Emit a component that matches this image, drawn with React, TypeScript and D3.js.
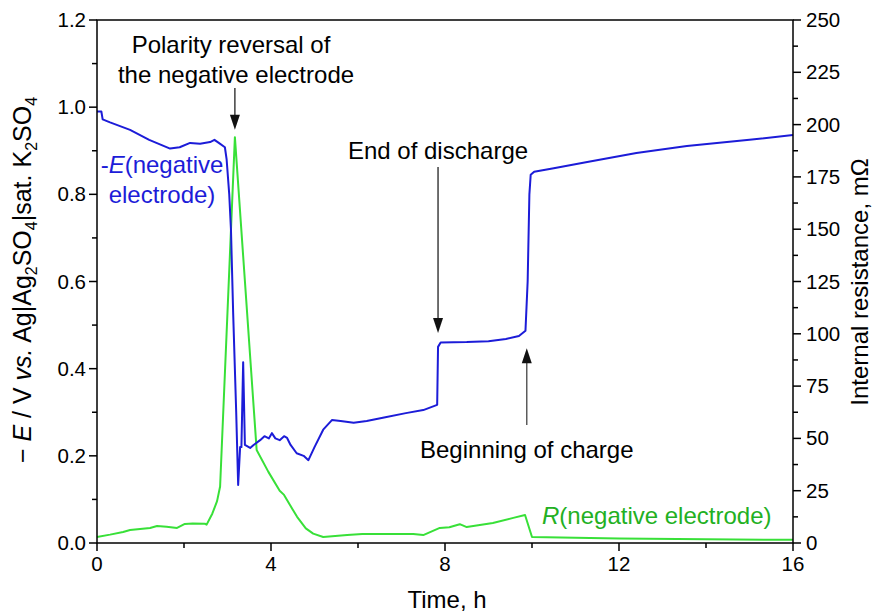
import React from "react";
import * as d3 from "d3";

// Time (h) and −E (V) of the negative electrode
const potentialT = [0, 0.1, 0.13, 0.3, 0.76, 1.2, 1.68, 1.9, 2.14, 2.37, 2.6, 2.7, 2.8, 2.94, 2.98, 3.04, 3.08, 3.13, 3.2, 3.245, 3.29, 3.32, 3.36, 3.4, 3.52, 3.6, 3.75, 3.85, 3.95, 4.02, 4.1, 4.2, 4.3, 4.37, 4.45, 4.59, 4.75, 4.86, 5.0, 5.2, 5.4, 5.6, 5.9, 6.2, 6.6, 7.1, 7.5, 7.82, 7.84, 7.9, 8.5, 9.0, 9.4, 9.7, 9.85, 9.9, 9.94, 9.97, 10.05, 10.5, 11.27, 12.4, 13.56, 15, 16];
const potentialE = [0.99, 0.99, 0.972, 0.965, 0.948, 0.925, 0.905, 0.908, 0.918, 0.916, 0.92, 0.925, 0.918, 0.908, 0.88, 0.8, 0.718, 0.528, 0.3, 0.133, 0.22, 0.22, 0.415, 0.225, 0.218, 0.225, 0.236, 0.245, 0.24, 0.252, 0.24, 0.236, 0.245, 0.241, 0.225, 0.206, 0.2, 0.19, 0.22, 0.26, 0.282, 0.28, 0.276, 0.28, 0.288, 0.298, 0.305, 0.317, 0.45, 0.46, 0.461, 0.463, 0.468, 0.475, 0.487, 0.6, 0.8, 0.845, 0.852, 0.86, 0.874, 0.895, 0.911, 0.925, 0.936];

// Time (h) and internal resistance (mΩ)
const resistT = [0, 0.3, 0.6, 0.76, 1.22, 1.38, 1.6, 1.84, 2.02, 2.2, 2.48, 2.52, 2.65, 2.76, 2.83, 3.17, 3.67, 3.94, 4.2, 4.3, 4.44, 4.6, 4.8, 4.97, 5.2, 5.75, 6.1, 7.27, 7.5, 7.88, 8.1, 8.34, 8.5, 9.1, 9.57, 9.84, 10.0, 12, 14, 16];
const resistR = [2.9, 4, 5.3, 6.2, 7.2, 8.1, 7.8, 7.2, 9.1, 9.3, 9.2, 8.8, 14, 20, 27, 194, 44.5, 34, 25, 23, 18, 12.5, 7, 4.5, 2.9, 3.8, 4.3, 4.3, 3.8, 7.2, 7.5, 9, 7.6, 9.6, 12, 13.4, 2.9, 2.2, 1.8, 1.5];

const xMajor = [0, 4, 8, 12, 16];
const xMinor = [2, 6, 10, 14];
const yLeftMajor = [0, 0.2, 0.4, 0.6, 0.8, 1.0, 1.2];
const yLeftMinor = [0.1, 0.3, 0.5, 0.7, 0.9, 1.1];
const yRightMajor = [0, 25, 50, 75, 100, 125, 150, 175, 200, 225, 250];
const yRightMinor = [12.5, 37.5, 62.5, 87.5, 112.5, 137.5, 162.5, 187.5, 212.5, 237.5];

const W = 875, H = 615;
const L = 97, R = 793, T = 20, B = 543;
const FONT = "'Liberation Sans', Arial, sans-serif";
const BLUE = "#1c1cd8";
const GREEN = "#38e038";
const GREEN_TXT = "#22b022";

export default function App() {
  const x = d3.scaleLinear().domain([0, 16]).range([L, R]);
  const yL = d3.scaleLinear().domain([0, 1.2]).range([B, T]);
  const yR = d3.scaleLinear().domain([0, 250]).range([B, T]);

  const ePts: [number, number][] = potentialT.map((t, i) => [t, potentialE[i]]);
  const rPts: [number, number][] = resistT.map((t, i) => [t, resistR[i]]);
  const eLine = d3.line<[number, number]>().x(d => x(d[0])).y(d => yL(d[1]));
  const rLine = d3.line<[number, number]>().x(d => x(d[0])).y(d => yR(d[1]));

  const arrowDown = (t: number, from: number, to: number) => {
    const ax = x(t), y0 = yL(from), y1 = yL(to);
    return (
      <g>
        <line x1={ax} x2={ax} y1={y0} y2={y1 - 12} stroke="#222" strokeWidth={1.3} />
        <path d={`M${ax - 5},${y1 - 15} L${ax + 5},${y1 - 15} L${ax},${y1} Z`} fill="#111" />
      </g>
    );
  };
  const arrowUp = (t: number, from: number, to: number) => {
    const ax = x(t), y0 = yL(from), y1 = yL(to);
    return (
      <g>
        <line x1={ax} x2={ax} y1={y0} y2={y1 + 12} stroke="#444" strokeWidth={1.3} />
        <path d={`M${ax - 5},${y1 + 15} L${ax + 5},${y1 + 15} L${ax},${y1} Z`} fill="#111" />
      </g>
    );
  };

  const tickFont = 20.5;
  const annFont = 24;

  return (
    <svg width={W} height={H} style={{ position: "absolute", left: 0, top: 0, background: "#fff" }} fontFamily={FONT}>
      <rect x={0} y={0} width={W} height={H} fill="#fff" />
      {/* data */}
      <path d={rLine(rPts) || ""} fill="none" stroke={GREEN} strokeWidth={2} strokeLinejoin="round" />
      <path d={eLine(ePts) || ""} fill="none" stroke={BLUE} strokeWidth={2} strokeLinejoin="round" />

      {/* frame */}
      <rect x={L} y={T} width={R - L} height={B - T} fill="none" stroke="#000" strokeWidth={1.5} />

      {/* bottom ticks */}
      {xMajor.map(v => (
        <g key={"xm" + v}>
          <line x1={x(v)} x2={x(v)} y1={B} y2={B + 8} stroke="#000" strokeWidth={1.5} />
          <text x={x(v)} y={B + 28} textAnchor="middle" fontSize={tickFont}>{v}</text>
        </g>
      ))}
      {xMinor.map(v => (
        <line key={"xn" + v} x1={x(v)} x2={x(v)} y1={B} y2={B + 5} stroke="#000" strokeWidth={1.5} />
      ))}

      {/* left ticks */}
      {yLeftMajor.map(v => (
        <g key={"yl" + v}>
          <line x1={L - 8} x2={L} y1={yL(v)} y2={yL(v)} stroke="#000" strokeWidth={1.5} />
          <text x={L - 11} y={yL(v) + 7} textAnchor="end" fontSize={tickFont}>{v.toFixed(1)}</text>
        </g>
      ))}
      {yLeftMinor.map(v => (
        <line key={"yln" + v} x1={L - 5} x2={L} y1={yL(v)} y2={yL(v)} stroke="#000" strokeWidth={1.5} />
      ))}

      {/* right ticks */}
      {yRightMajor.map(v => (
        <g key={"yr" + v}>
          <line x1={R} x2={R + 8} y1={yR(v)} y2={yR(v)} stroke="#000" strokeWidth={1.5} />
          <text x={R + 13} y={yR(v) + 7} textAnchor="start" fontSize={tickFont}>{v}</text>
        </g>
      ))}
      {yRightMinor.map(v => (
        <line key={"yrn" + v} x1={R} x2={R + 5} y1={yR(v)} y2={yR(v)} stroke="#000" strokeWidth={1.5} />
      ))}

      {/* axis titles */}
      <text x={(L + R) / 2 + 2} y={608} textAnchor="middle" fontSize={24}>Time, h</text>
      <text transform={`translate(31,280) rotate(-90)`} textAnchor="middle" fontSize={25}>
        <tspan>− </tspan><tspan fontStyle="italic">E</tspan><tspan> / V </tspan><tspan fontStyle="italic">vs.</tspan>
        <tspan> Ag|Ag</tspan><tspan fontSize={16} dy={6}>2</tspan><tspan dy={-6}>SO</tspan><tspan fontSize={16} dy={6}>4</tspan>
        <tspan dy={-6}>|sat. K</tspan><tspan fontSize={16} dy={6}>2</tspan><tspan dy={-6}>SO</tspan><tspan fontSize={16} dy={6}>4</tspan>
      </text>
      <text transform={`translate(868,282) rotate(-90)`} textAnchor="middle" fontSize={24}>Internal resistance, mΩ</text>

      {/* annotations */}
      <text x={231} y={53} textAnchor="middle" fontSize={annFont}>Polarity reversal of</text>
      <text x={236} y={83} textAnchor="middle" fontSize={annFont}>the negative electrode</text>
      {arrowDown(3.17, 1.044, 0.948)}

      <text x={x(7.84)} y={159} textAnchor="middle" fontSize={annFont}>End of discharge</text>
      {arrowDown(7.84, 0.863, 0.482)}

      <text x={x(9.88)} y={458} textAnchor="middle" fontSize={annFont}>Beginning of charge</text>
      {arrowUp(9.88, 0.271, 0.447)}

      <text x={162} y={173} textAnchor="middle" fontSize={annFont} fill={BLUE}>
        <tspan>-</tspan><tspan fontStyle="italic">E</tspan><tspan>(negative</tspan>
      </text>
      <text x={162} y={203} textAnchor="middle" fontSize={annFont} fill={BLUE}>electrode)</text>

      <text x={542} y={524} textAnchor="start" fontSize={annFont} fill={GREEN_TXT}>
        <tspan fontStyle="italic">R</tspan><tspan>(negative electrode)</tspan>
      </text>
    </svg>
  );
}
